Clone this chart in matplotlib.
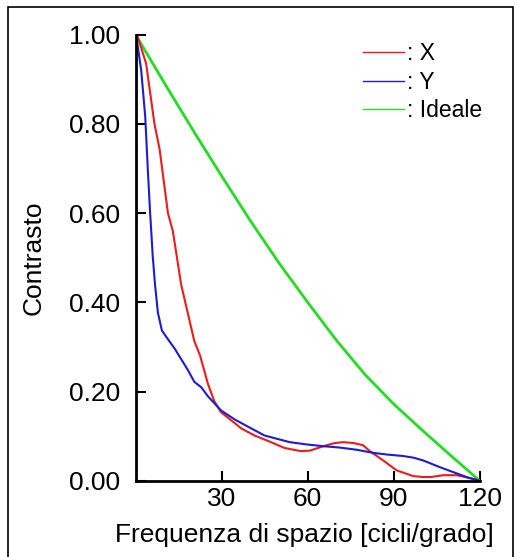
import numpy as np
import matplotlib
matplotlib.use('Agg')
import matplotlib.pyplot as plt
from matplotlib.lines import Line2D
from matplotlib.patches import Rectangle

# Data
freq_x = [0.5, 3.7, 6.6, 8.4, 11.3, 13.0, 15.9, 17.6, 20.5, 22.5, 25.2, 27.5, 29.8,
          34.5, 36.8, 41.4, 46.1, 51.9, 57.5, 60.7, 66.5, 69.5, 72.3, 76.0, 79.3,
          81.6, 86.3, 90.9, 96.7, 100.0, 103.0, 107.2, 111.9, 118.8, 120.0]
contrast_x = [1.0, 0.935, 0.80, 0.743, 0.60, 0.56, 0.44, 0.393, 0.313, 0.281, 0.218,
              0.178, 0.154, 0.13, 0.118, 0.102, 0.09, 0.074, 0.067, 0.068, 0.080,
              0.085, 0.087, 0.085, 0.080, 0.067, 0.046, 0.024, 0.011, 0.009, 0.009,
              0.013, 0.013, 0.003, 0.0]

freq_y = [0.2, 2.0, 3.4, 4.3, 5.1, 6.0, 6.8, 7.8, 9.2, 11.8, 13.6, 15.9, 18.2, 20.5,
          22.9, 25.2, 27.5, 29.8, 34.5, 39.1, 44.9, 53.7, 59.5, 65.3, 71.0, 77.0,
          82.8, 88.0, 93.2, 97.0, 100.2, 106.0, 111.9, 115.7, 120.0]
contrast_y = [1.0, 0.919, 0.815, 0.696, 0.60, 0.504, 0.44, 0.377, 0.337, 0.313, 0.297,
              0.273, 0.249, 0.222, 0.21, 0.19, 0.174, 0.158, 0.138, 0.122, 0.102,
              0.087, 0.082, 0.078, 0.075, 0.070, 0.063, 0.059, 0.056, 0.052, 0.046,
              0.031, 0.017, 0.008, 0.0]

freq_ideal = [0, 10, 20, 30, 40, 50, 60, 70, 80, 90, 100, 110, 120]
contrast_ideal = [1.0, 0.892, 0.786, 0.683, 0.583, 0.488, 0.40, 0.315, 0.238, 0.172,
                  0.113, 0.056, 0.0]

x_ticks = [30, 60, 90, 120]
y_ticks = [0.0, 0.2, 0.4, 0.6, 0.8, 1.0]
labels = [': X', ': Y', ': Ideale']
colors = ['#ee1b1b', '#1c1cd0', '#22dd22']

plt.rcParams['font.family'] = ['Liberation Sans', 'DejaVu Sans']

W, H = 516, 557
fig = plt.figure(figsize=(W / 100, H / 100), dpi=100)

# outer frame of the picture
fig.patches.append(Rectangle((8 / W, -0.02), (513 - 8) / W, 1 - 7 / H + 0.02,
                             transform=fig.transFigure, fill=False,
                             edgecolor='black', linewidth=1.2))

ax = fig.add_axes([135.5 / W, 1 - 481 / H, (480 - 135.5) / W, (481 - 34.5) / H])

ax.plot(freq_ideal, contrast_ideal, color=colors[2], linewidth=2.0)
ax.plot(freq_x, contrast_x, color=colors[0], linewidth=1.5)
ax.plot(freq_y, contrast_y, color=colors[1], linewidth=1.5)

ax.set_xlim(0, 120)
ax.set_ylim(0, 1.0)
ax.set_xticks(x_ticks)
ax.set_yticks(y_ticks)
ax.set_yticklabels([f'{v:.2f}' for v in y_ticks])
ax.tick_params(direction='in', length=7, width=1.5, labelsize=19, colors='black')
ax.tick_params(axis='y', pad=11)
ax.tick_params(axis='x', pad=4)

for side in ['top', 'right']:
    ax.spines[side].set_visible(False)
for side in ['left', 'bottom']:
    ax.spines[side].set_linewidth(2)

ax.set_xlabel('Frequenza di spazio [cicli/grado]', fontsize=19)
ax.xaxis.set_label_coords(0.49, -0.095)
ax.set_ylabel('Contrasto', fontsize=19)
ax.yaxis.set_label_coords(-0.262, 0.5)

handles = [Line2D([], [], color=c, linewidth=1.0) for c in colors]
ax.legend(handles, labels, loc='upper left', bbox_to_anchor=(363 / W, 1 - 42 / H),
          bbox_transform=fig.transFigure, frameon=False, fontsize=16.5,
          handlelength=1.8, handletextpad=0.12, labelspacing=0.25,
          borderpad=0, borderaxespad=0)

fig.savefig('out.png', dpi=100)
